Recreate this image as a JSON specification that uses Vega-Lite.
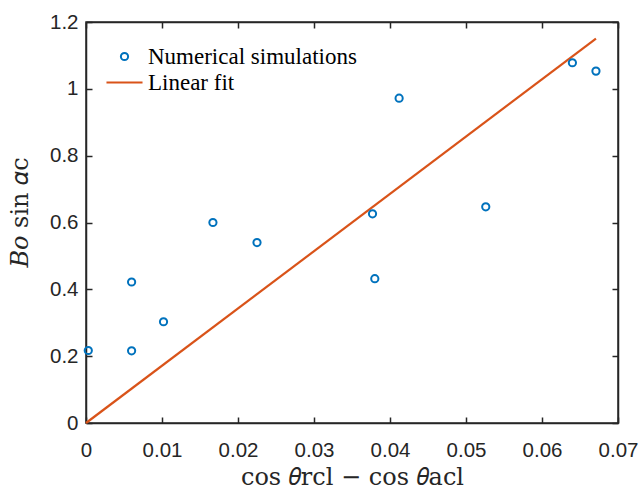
{
  "$schema": "https://vega.github.io/schema/vega-lite/v6.json",
  "autosize": {"type": "none"},
  "width": 532,
  "height": 401,
  "padding": {"left": 86, "top": 22, "right": 21, "bottom": 68},
  "background": "white",
  "datasets": {
    "sim": [
      {"x": 0.0003, "y": 0.217, "series": "Numerical simulations"},
      {"x": 0.0060, "y": 0.422, "series": "Numerical simulations"},
      {"x": 0.0060, "y": 0.216, "series": "Numerical simulations"},
      {"x": 0.0102, "y": 0.303, "series": "Numerical simulations"},
      {"x": 0.0167, "y": 0.600, "series": "Numerical simulations"},
      {"x": 0.0225, "y": 0.540, "series": "Numerical simulations"},
      {"x": 0.0377, "y": 0.626, "series": "Numerical simulations"},
      {"x": 0.0380, "y": 0.432, "series": "Numerical simulations"},
      {"x": 0.0412, "y": 0.972, "series": "Numerical simulations"},
      {"x": 0.0526, "y": 0.647, "series": "Numerical simulations"},
      {"x": 0.0640, "y": 1.078, "series": "Numerical simulations"},
      {"x": 0.0671, "y": 1.053, "series": "Numerical simulations"}
    ],
    "fit": [
      {"x": 0, "y": 0, "series": "Linear fit"},
      {"x": 0.0671, "y": 1.150, "series": "Linear fit"}
    ]
  },
  "config": {
    "view": {"stroke": "#262626", "strokeWidth": 1.5},
    "axis": {
      "grid": false,
      "domainColor": "#262626",
      "domainWidth": 1.5,
      "tickColor": "#262626",
      "tickWidth": 1.5,
      "tickSize": -6,
      "labelFlush": false,
      "labelOverlap": false,
      "format": "~g",
      "labelFont": "Liberation Sans",
      "labelFontSize": 20.5,
      "labelColor": "#262626",
      "titleFont": "DejaVu Serif",
      "titleFontWeight": "normal",
      "titleColor": "#262626",
      "titleFontSize": 24
    }
  },
  "layer": [
    {
      "data": {"name": "fit"},
      "mark": {"type": "line", "strokeWidth": 2.2},
      "encoding": {
        "x": {"field": "x", "type": "quantitative", "scale": {"domain": [0, 0.07], "nice": false},
              "axis": {"orient": "bottom", "values": [0, 0.01, 0.02, 0.03, 0.04, 0.05, 0.06, 0.07], "labelPadding": 23, "title": "cos 𝜃rcl − cos 𝜃acl", "titlePadding": 5}},
        "y": {"field": "y", "type": "quantitative", "scale": {"domain": [0, 1.2], "nice": false},
              "axis": {"orient": "left", "values": [0, 0.2, 0.4, 0.6, 0.8, 1, 1.2], "labelPadding": 14, "title": "𝐵𝑜 sin 𝛼c", "titlePadding": 17, "titleY": 190}},
        "color": {"field": "series", "type": "nominal",
                  "scale": {"domain": ["Numerical simulations", "Linear fit"], "range": ["#0072BD", "#D95319"]}}
      }
    },
    {
      "data": {"name": "sim"},
      "mark": {"type": "point", "filled": false, "strokeWidth": 2, "size": 52, "opacity": 1},
      "encoding": {
        "x": {"field": "x", "type": "quantitative",
              "axis": {"orient": "top", "values": [0, 0.01, 0.02, 0.03, 0.04, 0.05, 0.06, 0.07], "labels": false, "title": null}},
        "y": {"field": "y", "type": "quantitative",
              "axis": {"orient": "right", "values": [0, 0.2, 0.4, 0.6, 0.8, 1, 1.2], "labels": false, "title": null}},
        "shape": {"field": "series", "type": "nominal",
                  "scale": {"domain": ["Numerical simulations", "Linear fit"], "range": ["circle", "M-5,0H5"]}},
        "color": {"field": "series", "type": "nominal",
                  "legend": {
                    "orient": "none", "legendX": 27, "legendY": 23, "title": null,
                    "labelFont": "Liberation Serif", "labelFontSize": 23, "labelColor": "#000000",
                    "labelLimit": 400, "symbolSize": 52,
                    "symbolStrokeWidth": 2, "rowPadding": 2, "labelOffset": 12
                  }}
      }
    }
  ],
  "resolve": {"axis": {"x": "independent", "y": "independent"}}
}
